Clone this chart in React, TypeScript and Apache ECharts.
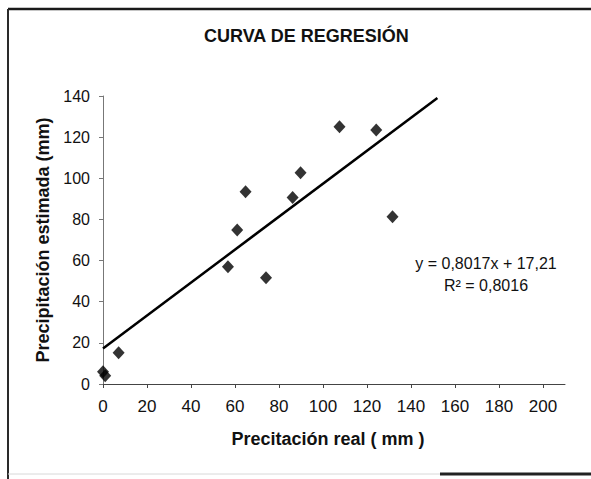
import React, { useEffect, useRef } from "react";
import * as echarts from "echarts";

// Data
const realPrecip = [0, 1, 7.1, 56.8, 61.0, 64.8, 74.1, 86.2, 89.8, 107.5, 124.2, 131.6];
const estPrecip = [6, 4, 15.2, 57.0, 74.9, 93.5, 51.7, 90.6, 102.7, 125.1, 123.5, 81.3];
const xTickLabels = [0, 20, 40, 60, 80, 100, 120, 140, 160, 180, 200];
const yTickLabels = [0, 20, 40, 60, 80, 100, 120, 140];
const trendSlope = 0.8017;
const trendIntercept = 17.21;
const trendRange = [0, 152];
const titleText = "CURVA DE REGRESIÓN";
const xName = "Precitación real ( mm )";
const yName = "Precipitación estimada (mm)";
const eqLine1 = "y = 0,8017x + 17,21";
const eqLine2 = "R² = 0,8016";

const FONT = "'Liberation Sans', Arial, sans-serif";

export default function App() {
  const ref = useRef<HTMLDivElement>(null);
  useEffect(() => {
    if (!ref.current) return;
    const chart = echarts.init(ref.current, null, { renderer: "svg" });
    const points = realPrecip.map((x, i) => [x, estPrecip[i]]);
    const trend = trendRange.map((x) => [x, trendSlope * x + trendIntercept]);
    chart.setOption({
      animation: false,
      backgroundColor: "#ffffff",
      textStyle: { fontFamily: FONT },
      title: {
        text: titleText,
        left: 204,
        top: 27,
        padding: 0,
        textStyle: { fontFamily: FONT, fontSize: 18, fontWeight: "bold", color: "#111" },
      },
      grid: { left: 103, top: 96, width: 462, height: 288, containLabel: false },
      xAxis: {
        type: "value",
        min: 0,
        max: 210,
        interval: 20,
        name: xName,
        nameLocation: "middle",
        nameGap: 46,
        nameTextStyle: {
          fontFamily: FONT,
          fontSize: 18,
          fontWeight: "bold",
          color: "#111",
          verticalAlign: "top",
          padding: [0, 12, 0, 0],
        },
        axisLine: { show: true, onZero: false, lineStyle: { color: "#444", width: 1 } },
        axisTick: { show: true, length: 4, customValues: xTickLabels, lineStyle: { color: "#444" } },
        axisLabel: {
          customValues: xTickLabels,
          margin: 14,
          fontFamily: FONT,
          fontSize: 17,
          color: "#111",
        },
        splitLine: { show: false },
      },
      yAxis: {
        type: "value",
        min: 0,
        max: 140,
        interval: 20,
        name: yName,
        nameLocation: "middle",
        nameGap: 50,
        nameTextStyle: { fontFamily: FONT, fontSize: 18, fontWeight: "bold", color: "#111" },
        axisLine: { show: true, onZero: false, lineStyle: { color: "#777", width: 1 } },
        axisTick: { show: true, length: 4, customValues: yTickLabels, lineStyle: { color: "#777" } },
        axisLabel: {
          customValues: yTickLabels,
          margin: 13,
          fontFamily: FONT,
          fontSize: 16,
          color: "#111",
        },
        splitLine: { show: false },
      },
      series: [
        {
          type: "line",
          data: trend,
          symbol: "none",
          lineStyle: { color: "#000", width: 2.5 },
          z: 2,
        },
        {
          type: "scatter",
          data: points,
          symbol: "diamond",
          symbolSize: [12, 13],
          itemStyle: { color: "#000" },
          z: 3,
        },
      ],
      graphic: [
        { type: "line", shape: { x1: 8, y1: 9, x2: 591, y2: 9 }, style: { stroke: "#1a1a1a", lineWidth: 2.5 } },
        { type: "line", shape: { x1: 8, y1: 9, x2: 8, y2: 479 }, style: { stroke: "#2a2a2a", lineWidth: 2 } },
        { type: "line", shape: { x1: 8, y1: 474, x2: 440, y2: 474 }, style: { stroke: "#d8d8d8", lineWidth: 1 } },
        { type: "line", shape: { x1: 440, y1: 474, x2: 591, y2: 474 }, style: { stroke: "#222", lineWidth: 3 } },
        {
          type: "text",
          x: 486,
          y: 263,
          style: {
            text: eqLine1,
            fontFamily: FONT,
            fontSize: 16,
            fill: "#111",
            align: "center",
            verticalAlign: "middle",
          },
        },
        {
          type: "text",
          x: 486,
          y: 285,
          style: {
            text: eqLine2,
            fontFamily: FONT,
            fontSize: 16,
            fill: "#111",
            align: "center",
            verticalAlign: "middle",
          },
        },
      ],
    });
    return () => chart.dispose();
  }, []);
  return (
    <div
      ref={ref}
      style={{ position: "fixed", left: 0, top: 0, width: 591, height: 479 }}
    />
  );
}
